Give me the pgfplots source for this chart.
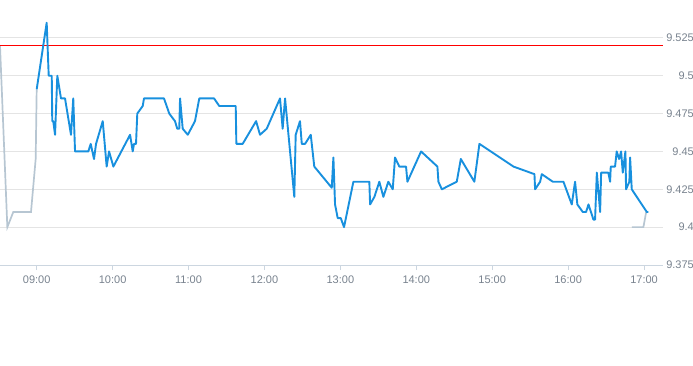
\documentclass[border=0pt]{standalone}
\usepackage{pgfplots}
\pgfplotsset{compat=1.18}
\usepackage{fontspec}
\setmainfont{Liberation Sans}
\definecolor{blueline}{RGB}{24,144,222}
\definecolor{grayline}{RGB}{183,198,210}
\definecolor{gridc}{RGB}{228,228,228}
\definecolor{axisc}{RGB}{204,214,224}
\definecolor{labc}{RGB}{120,130,142}
\begin{document}
\begin{tikzpicture}
\useasboundingbox (0,0) rectangle (693pt,-365pt);
\begin{axis}[
  at={(0pt,0pt)}, anchor=north west,
  scale only axis, width=663pt, height=265pt,
  xmin=511, xmax=1035, ymin=9.375, ymax=9.55,
  axis x line*=bottom, axis y line*=right,
  x axis line style={draw=axisc, line width=0.8pt},
  y axis line style={draw=none},
  xtick={540,600,660,720,780,840,900,960,1020},
  xticklabels={09:00,10:00,11:00,12:00,13:00,14:00,15:00,16:00,17:00},
  ytick={9.375,9.4,9.425,9.45,9.475,9.5,9.525},
  yticklabels={9.375,9.4,9.425,9.45,9.475,9.5,9.525},
  tick align=outside,
  xtick style={draw=axisc, line width=0.8pt},
  ytick style={draw=none},
  major tick length=5pt,
  ymajorgrids, grid style={draw=gridc, line width=0.8pt},
  tick label style={font=\fontsize{11}{13}\selectfont, text=labc},
  yticklabel style={anchor=east, inner sep=0pt, xshift=26pt},
  xticklabel style={yshift=-2pt},
  clip=true,
]
\addplot[draw=grayline, line width=1.7pt] coordinates {
(511,9.520) (516.8,9.400) (521.5,9.410) (535.5,9.410) (539.2,9.445) (540,9.491)
};
\addplot[draw=grayline, line width=1.7pt] coordinates {
(1010.3,9.400) (1019.5,9.400) (1021.7,9.410)
};
\addplot[red, line width=1.2pt] coordinates {(511,9.52) (600,9.52) (700,9.52) (800,9.52) (900,9.52) (1035,9.52)};
\addplot[draw=blueline, line width=1.9pt, line join=round] coordinates {
(540,9.491) (547.9,9.535) (549.5,9.500) (551.9,9.500) (552.3,9.470) (553.1,9.470)
(554.5,9.461) (556.3,9.500) (559.2,9.485) (562.4,9.485) (567.1,9.461) (568.9,9.485)
(570.3,9.450) (580.8,9.450) (582.7,9.455) (585.3,9.445) (586.9,9.455) (592.2,9.470)
(595.3,9.440) (597.2,9.450) (600.6,9.440) (613.8,9.461) (615.9,9.450) (616.9,9.455)
(618.5,9.455) (619.5,9.475) (623.8,9.480) (624.8,9.485) (640.6,9.485) (644.8,9.475)
(649.3,9.470) (651.1,9.465) (652.7,9.465) (653.3,9.485) (655.4,9.465) (659.4,9.461)
(665.1,9.470) (668.5,9.485) (680.2,9.485) (684.3,9.480) (697.3,9.480) (697.8,9.455)
(702.8,9.455) (713.4,9.470) (716.5,9.461) (721.8,9.465) (732.3,9.485) (734.4,9.465)
(736.3,9.485) (743.6,9.420) (744.7,9.461) (748.1,9.470) (749.5,9.455) (752.1,9.455)
(756.6,9.461) (759.4,9.440) (773.2,9.426) (774.5,9.446) (775.8,9.415) (777.9,9.406)
(780.3,9.406) (782.9,9.400) (790.3,9.430) (802.9,9.430) (803.5,9.415) (806.9,9.420)
(810.8,9.430) (814.0,9.420) (817.9,9.430) (821.4,9.425) (823.2,9.446) (826.6,9.440)
(831.9,9.440) (833.0,9.430) (843.8,9.450) (856.7,9.440) (857.5,9.430) (860.2,9.425)
(872.0,9.430) (875.2,9.445) (885.9,9.430) (889.9,9.455) (916.8,9.440) (933.4,9.435)
(933.9,9.425) (937.9,9.430) (939.2,9.435) (947.9,9.430) (956.3,9.430) (962.9,9.415)
(965.5,9.430) (967.3,9.415) (971.6,9.410) (974.2,9.410) (976.1,9.415) (980.0,9.405)
(981.3,9.405) (982.7,9.436) (985.3,9.410) (986.1,9.436) (991.8,9.436) (993.2,9.430)
(993.7,9.440) (997.1,9.440) (998.4,9.450) (1000.3,9.445) (1001.9,9.450) (1003.2,9.436)
(1005.3,9.450) (1005.8,9.425) (1008.4,9.430) (1009.0,9.446) (1010.3,9.425) (1022.2,9.410)
(1023.5,9.410)
};
\end{axis}
\end{tikzpicture}
\end{document}
